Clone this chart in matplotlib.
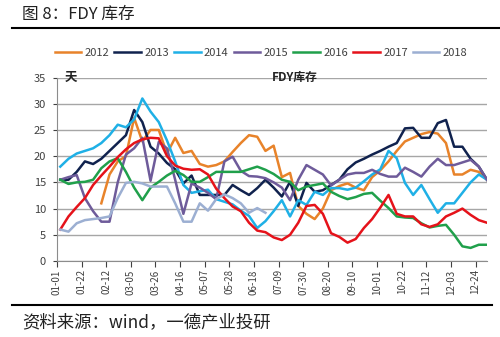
import numpy as np
import matplotlib
matplotlib.use("Agg")
import matplotlib.pyplot as plt
from matplotlib.lines import Line2D

plt.rcParams['font.family'] = ['Noto Sans CJK SC', 'DejaVu Sans']

#
# Donnees (FDY, jours de stock, une valeur par semaine)
years		= ["2012", "2013", "2014", "2015", "2016", "2017", "2018"]
colors		= ["#E8832A", "#10224E", "#1FB0E6", "#6E5B9A", "#20A04B", "#E5121A", "#9CAFD2"]
tickLabels	= ["01-01", "01-22", "02-12", "03-05", "03-26", "04-16", "05-07", "05-28", "06-18",
			   "07-09", "07-30", "08-20", "09-10", "10-01", "10-22", "11-12", "12-03", "12-24"]

nan = np.nan
fdy2012 = [nan] * 5 + [11, 16.5, 19, 20, 27.3, 22.8, 25, 25, 20.5, 23.5, 20.6, 21, 18.5, 18, 18.3, 19,
	20.8, 22.5, 24, 23.7, 21, 22, 16, 16.8, 10.5, 9, 8, 10, 13.5, 14.3, 14.8, 14, 13.5, 16, 17.3, 19,
	21, 22.8, 23.5, 24.2, 24.6, 24.3, 22.5, 16.5, 16.5, 17.4, 17, 15.5]
fdy2013 = [15.5, 15.5, 17, 19, 18.5, 19.5, 21, 22.5, 24, 28.8, 26.5, 21.8, 20.5, 18.7, 17.5, 14.8, 16.3,
	12.6, 12.6, 12.6, 12.6, 14.5, 13.5, 12.6, 13.9, 15.5, 14, 12.3, 15.1, 10.5, 14.9, 13.2, 13.5, 14.5,
	15.5, 17.5, 18.8, 19.5, 20.3, 21, 21.8, 22.5, 25.3, 25.4, 23.5, 23.5, 26.3, 26.9, 21.8, 21.8, 19.5, 18, 15.5]
fdy2014 = [18, 19.5, 20.5, 21, 21.5, 22.5, 24, 26, 25.5, 27, 31, 28.5, 26.5, 23, 19, 14.5, 13, 13.3, 13.6,
	11.8, 11.3, 10.8, 9.6, 8.6, 6.3, 7.6, 9.5, 11.6, 8.5, 11.6, 10.7, 13.2, 12.6, 13.9, 13.9, 13.6, 14,
	15.2, 16.5, 17.5, 21, 19.6, 14.9, 12.6, 14.5, 11.8, 9.2, 11, 11, 13, 15, 16.5, 15.5]
fdy2015 = [15.5, 16, 16.4, 12, 9.5, 7.5, 7.5, 15, 20.3, 21.5, 23.5, 15.3, 22.7, 21.5, 15.5, 9, 14.8, 14, 13,
	11.8, 19, 19.9, 17.2, 16.2, 16.1, 15.8, 15, 14, 11.6, 15.5, 18.3, 17.4, 16.5, 14.4, 15.5, 16.5, 16.8,
	16.8, 17.4, 16.6, 16.1, 16.1, 17.8, 17, 16.1, 18, 19.5, 18.3, 18.3, 18.8, 19.3, 18, 15.5]
fdy2016 = [15.5, 14.7, 15, 15.1, 15.5, 17.7, 19, 19.6, 17, 14, 11.6, 14, 15.1, 16.3, 17.2, 16.4, 15.1, 15.1,
	16, 17, 17, 17, 17, 17.5, 18, 17.4, 16.6, 15.5, 15.1, 13.5, 14.2, 14.5, 14.8, 13.2, 12.4, 11.8, 12.2,
	12.8, 13, 11.5, 10.1, 8.5, 8.3, 8.2, 7.2, 6.4, 6.7, 6.9, 5, 2.8, 2.5, 3.1, 3.1]
fdy2017 = [6, 8.5, 10.3, 12, 14.5, 16.3, 18, 19.8, 21.3, 22.5, 23.2, 23.5, 23.4, 20, 18.2, 17.6, 17.4, 17.5,
	16.5, 13.8, 12, 10.4, 9.5, 7.3, 5.8, 5.5, 4.5, 4, 5, 7.3, 10.5, 10.7, 9, 5.3, 4.6, 3.5, 4.2, 6.3, 8,
	10.2, 12.6, 9, 8.5, 8.5, 7, 6.5, 7, 8.5, 9.2, 10, 8.8, 7.8, 7.3]
fdy2018 = [6, 5.6, 7.2, 7.8, 8, 8.2, 8.5, 12, 14.9, 15.1, 14.8, 14.2, 14.2, 14.2, 11, 7.5, 7.5, 11, 9.6,
	11.8, 12.7, 12, 11, 9.2, 10.1, 9.2] + [nan] * 27

#
# main
def main():
	series	= [fdy2012, fdy2013, fdy2014, fdy2015, fdy2016, fdy2017, fdy2018]
	weeks	= np.arange(len(fdy2013))

	fig = plt.figure(figsize=(5, 3.37), dpi=100)
	ax = fig.add_axes([0.114, 0.2255, 0.86, 0.5445])

	for year, values, col in zip(years, series, colors):
		ax.plot(weeks, np.array(values, dtype=float), color=col, lw=1.8, label=year)

	ax.set_ylim(0, 35)
	ax.set_yticks(range(0, 36, 5))
	ax.set_xlim(-0.4, 52.0)
	ax.set_xticks(np.arange(0, 52, 3) - 0.4)
	ax.set_xticklabels(tickLabels, rotation=90, fontsize=7, color="#404040")
	ax.tick_params(axis='y', labelsize=8, colors="#404040", length=3, pad=5)
	ax.tick_params(axis='x', length=4, pad=2, colors="#404040")
	ax.yaxis.grid(True, color="#A6A6A6", lw=1.0)
	ax.set_axisbelow(True)
	for side in ["top", "right"]:
		ax.spines[side].set_visible(False)
	ax.spines["left"].set_color("#8C8C8C")
	ax.spines["bottom"].set_color("#8C8C8C")

	ax.text(0.019, 1.0, "天", transform=ax.transAxes, fontsize=9, fontweight="bold",
		va="center", ha="left", color="#222222")
	ax.text(0.553, 1.0, "FDY库存", transform=ax.transAxes, fontsize=8.5, fontweight="bold",
		va="center", ha="center", color="#222222")

	# legende sur une ligne
	fig.legend(loc="center", bbox_to_anchor=(0.522, 0.843), ncol=7, frameon=False,
		fontsize=8, handlelength=2.4, handletextpad=0.3, columnspacing=0.45,
		labelcolor="#404040")

	# titre, traits et source
	fig.text(0.044, 0.958, "图 8：FDY 库存", fontsize=12, va="center", ha="left", color="#222222")
	fig.add_artist(Line2D([0.024, 1.0], [0.917, 0.917], color="black", lw=1.5))
	fig.add_artist(Line2D([0.024, 0.984], [0.095, 0.095], color="black", lw=1.5))
	fig.text(0.044, 0.045, "资料来源：wind，一德产业投研", fontsize=12.5, va="center", ha="left",
		color="#222222")

	fig.savefig("out.png", dpi=100)

#
# Main guard
if __name__ == "__main__":
	main()
